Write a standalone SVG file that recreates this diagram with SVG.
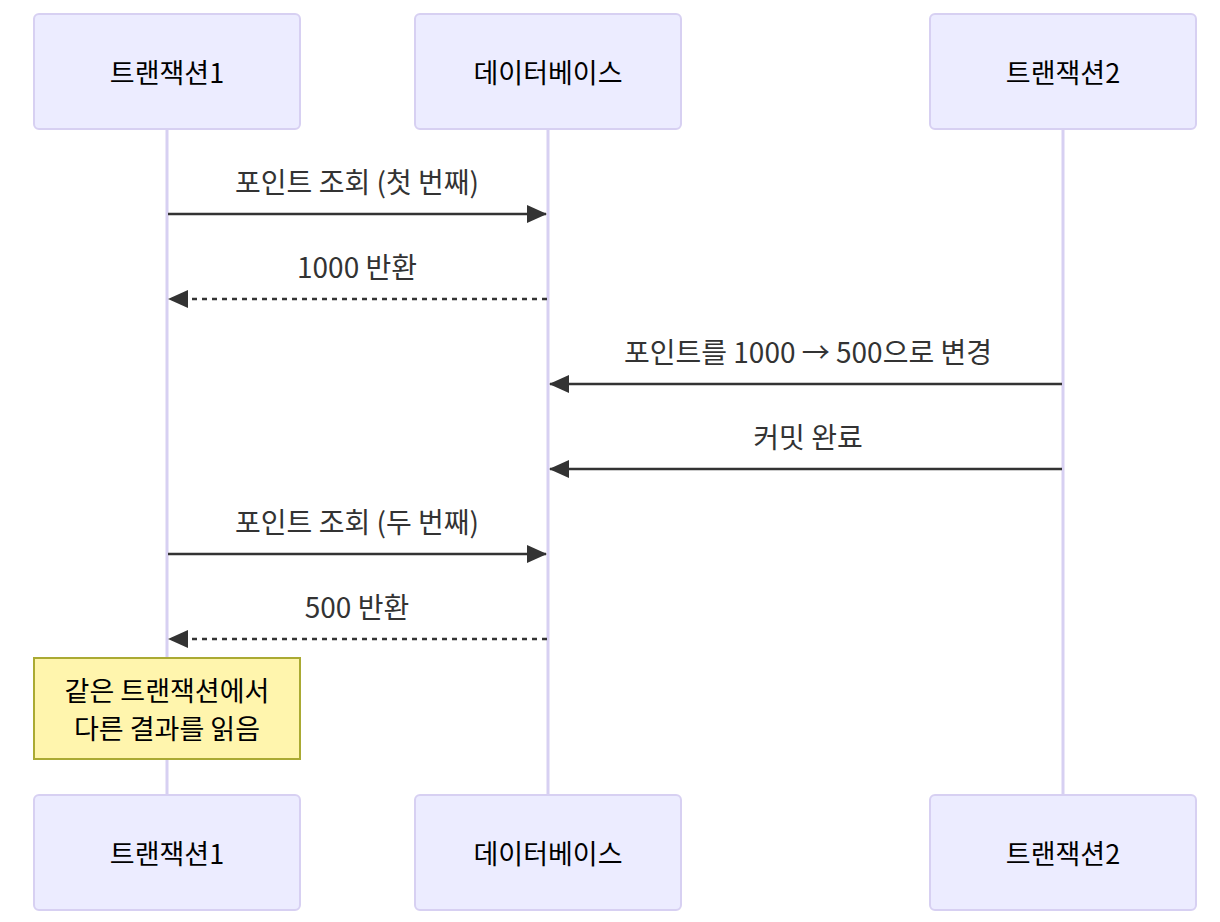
<svg xmlns="http://www.w3.org/2000/svg" width="1220" height="922" viewBox="0 0 1220 922">
<defs>
<style>
.actor{fill:#ECECFF;stroke:#D7D0F2;stroke-width:2;}
.life{stroke:#D7D0F2;stroke-width:3;}
.t{font-family:"Noto Sans CJK KR","Noto Sans",sans-serif;font-size:28px;fill:#333;text-anchor:middle;dominant-baseline:central;}
.at{fill:#000;}
.a{font-size:27px;}
.n{font-size:27px;}
.msg{stroke:#333;stroke-width:2.6;fill:none;}
.dash{stroke-dasharray:5,5;}
.note{fill:#FFF5AD;stroke:#AAAA33;stroke-width:2;}
</style>
<marker id="ah" viewBox="0 0 20 18" markerUnits="userSpaceOnUse" markerWidth="20" markerHeight="18" refX="19" refY="9" orient="auto">
<path d="M0,0 L20,9 L0,18 Z" fill="#333"/>
</marker>
</defs>
<g id="lifelines">
<line class="life" x1="167" y1="129" x2="167" y2="795"/>
<line class="life" x1="548" y1="129" x2="548" y2="795"/>
<line class="life" x1="1063" y1="129" x2="1063" y2="795"/>
</g>
<g id="actor-t1-top"><rect class="actor" x="34" y="14" width="266" height="115" rx="5"/><text class="t at a" x="167" y="71">트랜잭션1</text></g>
<g id="actor-db-top"><rect class="actor" x="415" y="14" width="266" height="115" rx="5"/><text class="t at a" x="548" y="71">데이터베이스</text></g>
<g id="actor-t2-top"><rect class="actor" x="930" y="14" width="266" height="115" rx="5"/><text class="t at a" x="1063" y="71">트랜잭션2</text></g>
<g id="actor-t1-bottom"><rect class="actor" x="34" y="795" width="266" height="115" rx="5"/><text class="t at a" x="167" y="852">트랜잭션1</text></g>
<g id="actor-db-bottom"><rect class="actor" x="415" y="795" width="266" height="115" rx="5"/><text class="t at a" x="548" y="852">데이터베이스</text></g>
<g id="actor-t2-bottom"><rect class="actor" x="930" y="795" width="266" height="115" rx="5"/><text class="t at a" x="1063" y="852">트랜잭션2</text></g>
<g id="connectors">
<line class="msg" x1="168" y1="214" x2="546" y2="214" marker-end="url(#ah)"/>
<line class="msg dash" x1="547" y1="299" x2="169" y2="299" marker-end="url(#ah)"/>
<line class="msg" x1="1062" y1="384" x2="550" y2="384" marker-end="url(#ah)"/>
<line class="msg" x1="1062" y1="469" x2="550" y2="469" marker-end="url(#ah)"/>
<line class="msg" x1="168" y1="554" x2="546" y2="554" marker-end="url(#ah)"/>
<line class="msg dash" x1="547" y1="639" x2="169" y2="639" marker-end="url(#ah)"/>
<text class="t" x="357" y="181">포인트 조회 (첫 번째)</text>
<text class="t" x="357" y="266">1000 반환</text>
<text class="t" x="808" y="351">포인트를 1000 → 500으로 변경</text>
<text class="t" x="808" y="436">커밋 완료</text>
<text class="t" x="357" y="521">포인트 조회 (두 번째)</text>
<text class="t" x="357" y="606">500 반환</text>
</g>
<g id="note">
<rect class="note" x="34" y="658" width="266" height="101"/>
<text class="t at n" x="167" y="689">같은 트랜잭션에서</text>
<text class="t at n" x="167" y="727">다른 결과를 읽음</text>
</g>
</svg>
